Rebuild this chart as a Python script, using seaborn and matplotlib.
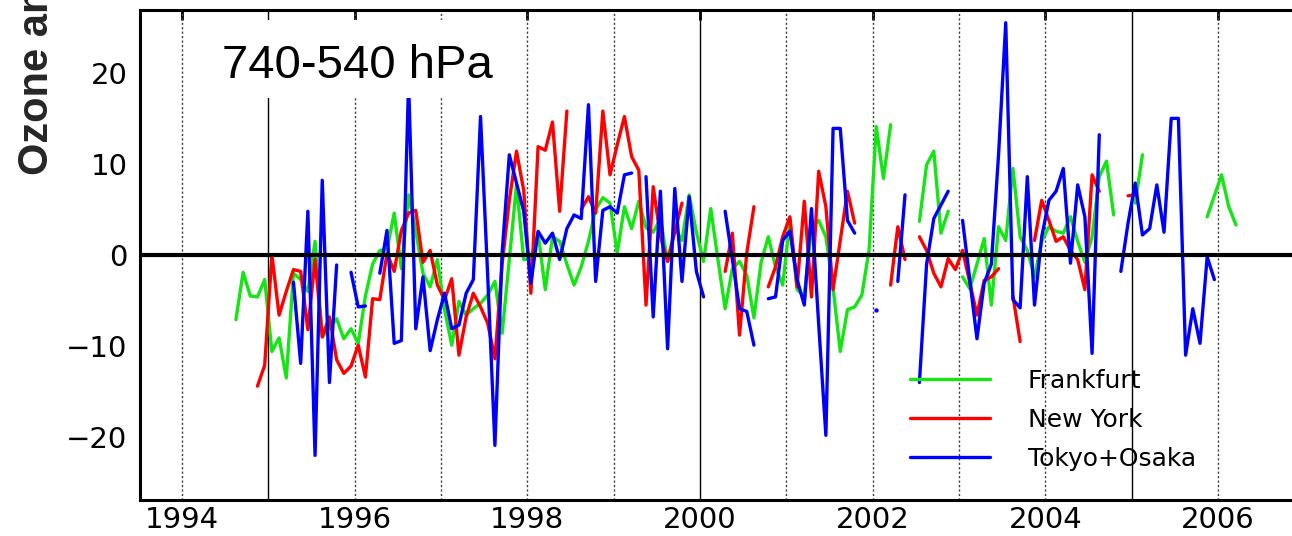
import numpy as np
import pandas as pd
import matplotlib
matplotlib.use("Agg")
import matplotlib.pyplot as plt
import matplotlib.patches as mpatches
from matplotlib.lines import Line2D
import seaborn as sns

nan = np.nan

# ---------------- data (monthly anomalies, %, Jan 1994 .. Dec 2006) ----------------
start_year = 1994

frankfurt = [
    nan, nan, nan, nan, nan, nan, nan, -7.1, -1.9, -4.5, -4.6, -2.7,      # 1994
    -10.6, -9.1, -13.5, -2.0, -2.7, -4.0, 1.5, -9.0, -8.0, -7.0, -9.2, -8.1,  # 1995
    -9.7, -4.5, -1.0, 0.5, 0.6, 4.6, -1.5, 6.6, 2.6, -2.0, -3.5, -0.5,    # 1996
    -6.0, -9.9, -5.1, -6.6, -5.9, -5.3, -4.4, -2.9, -8.6, -0.5, 7.7, -0.5,  # 1997
    -0.5, 2.4, -3.8, 2.0, 1.5, -1.0, -3.3, -1.3, 1.5, 5.0, 6.3, 5.7,     # 1998
    0.2, 5.3, 2.9, 5.9, 3.0, 2.5, 4.0, -0.7, 3.0, 1.6, 6.6, 2.5,          # 1999
    -0.7, 5.1, -0.5, -5.9, -1.5, -0.7, -2.2, -6.9, -0.8, 2.0, -1.3, -3.3,  # 2000
    3.8, -3.8, -4.5, 3.0, 3.8, 2.0, -3.6, -10.6, -6.0, -5.7, -4.4, 0.5,   # 2001
    14.1, 8.4, 14.3, nan, nan, nan, 3.7, 9.9, 11.4, 2.4, 4.8, nan,        # 2002
    -2.4, -3.7, -1.0, 1.8, -5.5, 3.1, 1.6, 9.5, 2.0, 0.5, -2.4, 1.5,      # 2003
    3.1, 2.6, 2.4, 4.2, 1.5, -0.8, 2.0, 8.6, 10.3, 4.4, nan, nan,         # 2004
    5.7, 11.0, nan, nan, nan, nan, nan, nan, nan, nan, 4.2, 6.5,          # 2005
    8.8, 5.3, 3.3, nan, nan, nan, nan, nan, nan, nan, nan, nan,           # 2006
]

new_york = [
    nan, nan, nan, nan, nan, nan, nan, nan, nan, nan, -14.4, -12.1,       # 1994
    0.0, -6.6, -4.0, -1.6, -1.8, -8.2, -0.5, -9.0, -6.8, -11.5, -13.0, -12.2,  # 1995
    -9.9, -13.4, -4.8, -4.9, 0.2, -1.8, 2.7, 4.6, 4.9, -0.8, 0.5, -3.3,   # 1996
    -4.9, -2.6, -11.0, -6.8, -4.2, -5.7, -7.5, -11.4, -1.0, 6.0, 11.4, 7.1,  # 1997
    -4.2, 11.9, 11.5, 14.6, 4.8, 15.8, nan, 5.0, 6.4, 4.6, 15.8, 8.8,     # 1998
    12.1, 15.2, 10.8, 9.3, -5.5, 7.5, 2.0, -0.7, 2.5, 5.7, nan, nan,      # 1999
    nan, nan, nan, -1.8, 2.4, -8.8, 0.2, 5.3, nan, -3.5, -1.3, 2.0,       # 2000
    4.2, -3.5, 5.9, -4.6, 9.2, 5.3, -3.8, 1.6, 7.0, 3.5, nan, nan,        # 2001
    nan, nan, -3.3, 3.1, -0.5, nan, 2.0, 0.5, -2.0, -3.5, -0.4, -1.6,     # 2002
    0.5, -3.0, -6.6, -2.8, -2.4, -1.5, nan, -4.5, -9.5, nan, 1.6, 6.0,    # 2003
    3.8, 1.5, 2.0, 0.5, -0.5, -3.8, 8.8, 7.0, nan, nan, nan, 6.5,         # 2004
    6.6, nan, nan, nan, nan, nan, nan, nan, nan, nan, nan, nan,           # 2005
    nan, nan, nan, nan, nan, nan, nan, nan, nan, nan, nan, nan,           # 2006
]

tokyo_osaka = [
    nan, nan, nan, nan, nan, nan, nan, nan, nan, nan, nan, nan,           # 1994
    nan, nan, nan, -3.0, -11.9, 4.8, -22.0, 8.2, -14.0, -1.1, nan, -1.9,  # 1995
    -5.7, -5.6, nan, -2.0, 2.7, -9.7, -9.4, 19.0, -8.1, -2.4, -10.5, -7.1,  # 1996
    -4.2, -8.1, -7.7, -4.2, -2.7, 15.2, -2.4, -20.9, 0.2, 11.0, 7.9, 4.8,  # 1997
    -3.1, 2.6, 1.3, 2.4, -0.5, 2.9, 4.4, 4.0, 16.5, -2.9, 4.9, 5.3,       # 1998
    4.6, 8.8, 9.0, nan, 8.6, -6.8, 7.0, -10.3, 7.3, -2.9, 6.4, -1.8,      # 1999
    -4.6, nan, nan, 4.8, -0.5, -5.9, -6.2, -9.9, nan, -4.8, -4.6, 1.6,    # 2000
    2.6, -2.7, -5.5, 5.1, -7.6, -19.8, 13.9, 13.9, 3.8, 2.4, nan, nan,    # 2001
    -6.0, nan, nan, -2.9, 6.6, nan, -14.0, -1.0, 4.0, 5.5, 7.0, nan,      # 2002
    3.8, -2.7, -9.2, -3.1, -1.0, 11.0, 25.5, -4.9, -5.8, 8.6, -5.5, 2.0,  # 2003
    6.0, 7.0, 9.5, -0.9, 7.7, 4.2, -10.8, 13.2, nan, nan, -1.8, 3.5,      # 2004
    7.9, 2.2, 2.9, 7.7, 2.5, 15.0, 15.0, -11.0, -5.9, -9.7, -0.2, -2.7,   # 2005
    nan, nan, nan, nan, nan, nan, nan, nan, nan, nan, nan, nan,           # 2006
]

series_names = ["Frankfurt", "New York", "Tokyo+Osaka"]
series_colors = ["#14e614", "#ff0000", "#0000ff"]
x_ticks = [1994, 1996, 1998, 2000, 2002, 2004, 2006]
y_ticks = [-20, -10, 0, 10, 20]
year_lines = list(range(1994, 2007))
solid_year_lines = [1995, 2000, 2005]
panel_title = "740-540 hPa"
y_label = "Ozone anomaly (%)"

# ---------------- build long table ----------------
frames = []
for name, vals in zip(series_names, [frankfurt, new_york, tokyo_osaka]):
    v = np.asarray(vals, dtype=float)
    t = start_year + (np.arange(len(v)) + 0.5) / 12.0
    seg = np.cumsum(np.isnan(v))
    frames.append(pd.DataFrame({"time": t, "ozone": v, "site": name, "seg": seg}))
data = pd.concat(frames, ignore_index=True)

# isolated single points (no neighbours) are drawn as dots
iso = []
for name, grp in data.groupby("site", sort=False):
    v = grp["ozone"].to_numpy()
    prev_nan = np.r_[True, np.isnan(v[:-1])]
    next_nan = np.r_[np.isnan(v[1:]), True]
    mask = (~np.isnan(v)) & prev_nan & next_nan
    iso.append(grp[mask])
iso = pd.concat(iso)
valid = data.dropna(subset=["ozone"])

# ---------------- style ----------------
sns.set_theme(style="white")
plt.rcParams["font.family"] = ["DejaVu Sans"]
plt.rcParams["axes.edgecolor"] = "black"
plt.rcParams["xtick.color"] = "black"
plt.rcParams["ytick.color"] = "black"
plt.rcParams["text.color"] = "black"

fig = plt.figure(figsize=(12.92, 5.36), dpi=100)
ax = fig.add_axes([140 / 1292, 36 / 536, 1160 / 1292, 490 / 536])

palette = dict(zip(series_names, series_colors))

# year reference lines
for yr in year_lines:
    if yr in solid_year_lines:
        ax.axvline(yr, color="black", lw=1.0, zorder=1)
    else:
        ax.axvline(yr, color="0.25", lw=1.0, ls=(0, (1.6, 1.6)), zorder=1)

sns.lineplot(data=valid, x="time", y="ozone", hue="site", units="seg",
             estimator=None, palette=palette, hue_order=series_names,
             lw=2.4, legend=False, ax=ax, zorder=2, sort=True)
if len(iso):
    sns.scatterplot(data=iso, x="time", y="ozone", hue="site", palette=palette,
                    hue_order=series_names, s=10, linewidth=0, legend=False,
                    ax=ax, zorder=2)

ax.axhline(0, color="black", lw=3.0, zorder=3)

# white box behind the panel title
ax.add_patch(mpatches.Rectangle((0.052, 0.8204), 0.27, 0.16, transform=ax.transAxes,
                                facecolor="white", edgecolor="none", zorder=4))
ax.text(1994.46, 19.45, panel_title, fontsize=34, family="Liberation Sans",
        ha="left", va="baseline", zorder=5)

ax.set_xlim(1993.514, 2006.95)
ax.set_ylim(-26.9, 26.9)
ax.set_xticks(x_ticks)
ax.set_xticklabels([str(x) for x in x_ticks])
ax.set_yticks(y_ticks)
ax.set_yticklabels(["\u221220" if v == -20 else "\u221210" if v == -10 else str(v) for v in y_ticks])
ax.tick_params(axis="both", direction="in", length=7, width=2, labelsize=21,
               top=True, right=False)
ax.tick_params(axis="x", pad=4)
ax.tick_params(axis="y", pad=9)
for side in ["left", "top", "bottom"]:
    ax.spines[side].set_linewidth(2.2)
    ax.spines[side].set_color("black")
ax.spines["right"].set_visible(False)

ax.set_xlabel("")
ax.set_ylabel(y_label, fontsize=30, fontweight="bold", family="Liberation Sans")
ax.yaxis.set_label_coords(-0.0716, 1.055)

handles = [Line2D([], [], color=c, lw=2.4) for c in series_colors]
leg = ax.legend(handles, series_names, loc="upper left", bbox_to_anchor=(0.664, 0.268),
                frameon=False, fontsize=18, handlelength=3.2, handletextpad=1.5,
                labelspacing=0.6, borderaxespad=0, borderpad=0)
leg.set_zorder(6)

fig.savefig("out.png", dpi=100)
